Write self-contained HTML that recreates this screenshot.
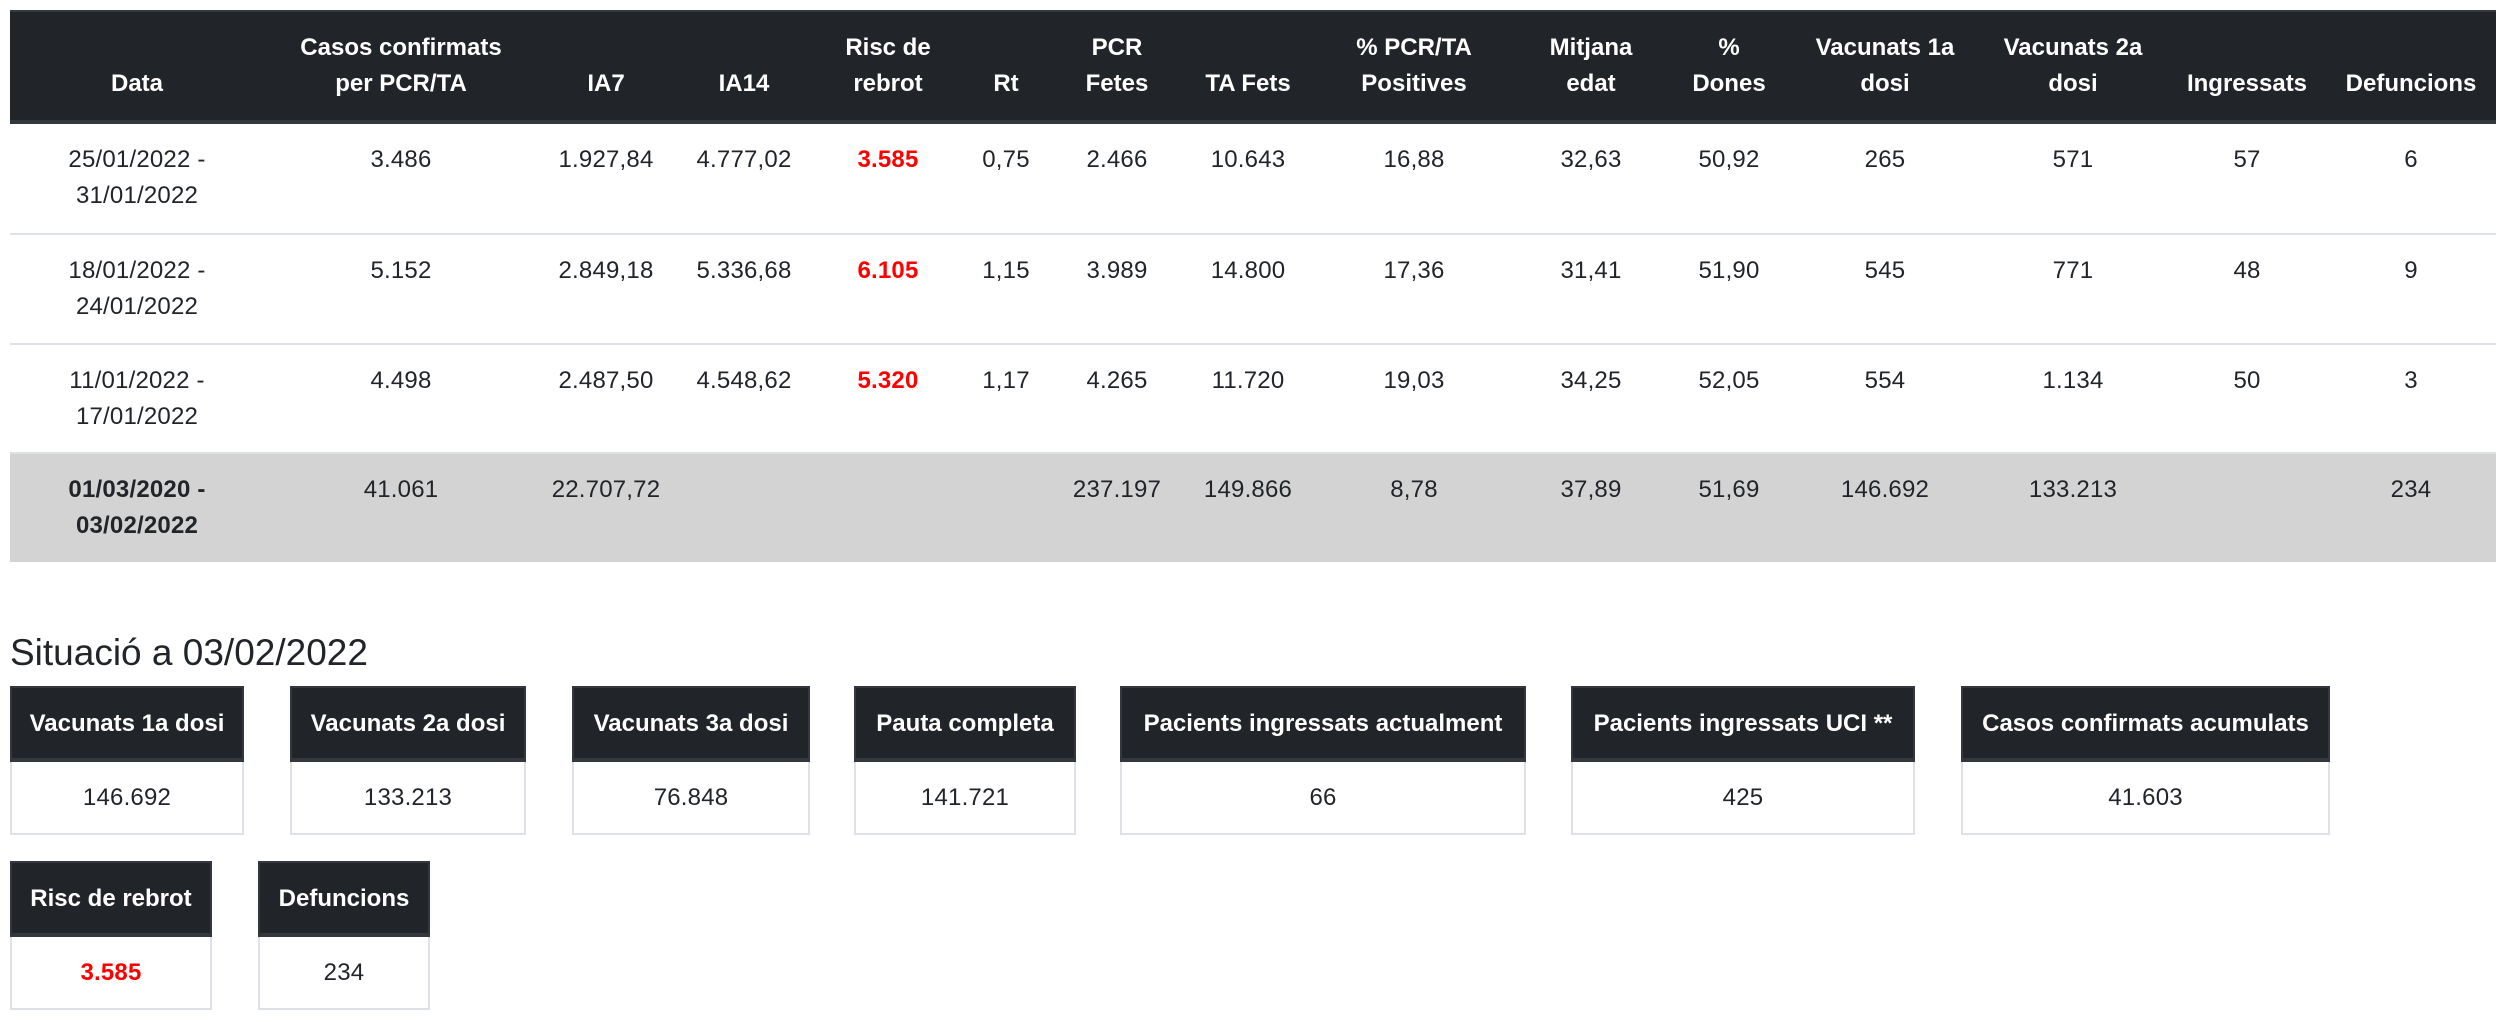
<!DOCTYPE html>
<html>
<head>
<meta charset="utf-8">
<style>
*{box-sizing:border-box;margin:0;padding:0}
html,body{width:2508px;height:1022px;background:#fff;overflow:hidden}
body{font-family:"Liberation Sans",Arial,sans-serif;color:#212529;position:relative}
.thead{position:absolute;left:10px;top:10px;width:2486px;height:114px;background:#212529;border-top:2px solid #32383e;border-bottom:4px solid #32383e;display:flex}
.thead .c{height:108px;display:flex;flex-direction:column;justify-content:flex-end;align-items:center;padding-bottom:18px;color:#fff;font-weight:bold;font-size:24px;line-height:36px;text-align:center;white-space:nowrap}
.row{position:absolute;left:10px;width:2486px;height:109.5px;display:flex}
.row.b{border-top:2px solid #dee2e6}
.row .c{padding-top:18px;font-size:24px;line-height:36px;text-align:center;white-space:nowrap;letter-spacing:0.2px}
.row.tot{background:#d3d3d3}
.red{color:#ff0000;font-weight:bold}
.bold{font-weight:bold}
h4{position:absolute;left:10px;top:631px;font-size:37px;line-height:43px;font-weight:normal;color:#212529;white-space:nowrap}
.card{position:absolute;height:149px}
.card .h{height:76px;background:#212529;border:2px solid #32383e;border-bottom:4px solid #32383e;color:#fff;font-weight:bold;font-size:24px;line-height:36px;text-align:center;padding-top:18px;white-space:nowrap}
.card .v{height:73px;border:2px solid #dee2e6;border-top:none;font-size:24px;line-height:36px;text-align:center;padding-top:18px;white-space:nowrap;letter-spacing:0.2px}
</style>
</head>
<body>

<div class="thead">
  <div class="c" style="width:254px">Data</div>
  <div class="c" style="width:274px">Casos confirmats<br>per PCR/TA</div>
  <div class="c" style="width:136px">IA7</div>
  <div class="c" style="width:140px">IA14</div>
  <div class="c" style="width:148px">Risc de<br>rebrot</div>
  <div class="c" style="width:88px">Rt</div>
  <div class="c" style="width:134px">PCR<br>Fetes</div>
  <div class="c" style="width:128px">TA Fets</div>
  <div class="c" style="width:204px">% PCR/TA<br>Positives</div>
  <div class="c" style="width:150px">Mitjana<br>edat</div>
  <div class="c" style="width:126px">%<br>Dones</div>
  <div class="c" style="width:186px">Vacunats 1a<br>dosi</div>
  <div class="c" style="width:190px">Vacunats 2a<br>dosi</div>
  <div class="c" style="width:158px">Ingressats</div>
  <div class="c" style="width:170px">Defuncions</div>
</div>

<div class="row" style="top:124px">
  <div class="c" style="width:254px">25/01/2022 -<br>31/01/2022</div>
  <div class="c" style="width:274px">3.486</div>
  <div class="c" style="width:136px">1.927,84</div>
  <div class="c" style="width:140px">4.777,02</div>
  <div class="c red" style="width:148px">3.585</div>
  <div class="c" style="width:88px">0,75</div>
  <div class="c" style="width:134px">2.466</div>
  <div class="c" style="width:128px">10.643</div>
  <div class="c" style="width:204px">16,88</div>
  <div class="c" style="width:150px">32,63</div>
  <div class="c" style="width:126px">50,92</div>
  <div class="c" style="width:186px">265</div>
  <div class="c" style="width:190px">571</div>
  <div class="c" style="width:158px">57</div>
  <div class="c" style="width:170px">6</div>
</div>

<div class="row b" style="top:233px">
  <div class="c" style="width:254px">18/01/2022 -<br>24/01/2022</div>
  <div class="c" style="width:274px">5.152</div>
  <div class="c" style="width:136px">2.849,18</div>
  <div class="c" style="width:140px">5.336,68</div>
  <div class="c red" style="width:148px">6.105</div>
  <div class="c" style="width:88px">1,15</div>
  <div class="c" style="width:134px">3.989</div>
  <div class="c" style="width:128px">14.800</div>
  <div class="c" style="width:204px">17,36</div>
  <div class="c" style="width:150px">31,41</div>
  <div class="c" style="width:126px">51,90</div>
  <div class="c" style="width:186px">545</div>
  <div class="c" style="width:190px">771</div>
  <div class="c" style="width:158px">48</div>
  <div class="c" style="width:170px">9</div>
</div>

<div class="row b" style="top:342.5px">
  <div class="c" style="width:254px">11/01/2022 -<br>17/01/2022</div>
  <div class="c" style="width:274px">4.498</div>
  <div class="c" style="width:136px">2.487,50</div>
  <div class="c" style="width:140px">4.548,62</div>
  <div class="c red" style="width:148px">5.320</div>
  <div class="c" style="width:88px">1,17</div>
  <div class="c" style="width:134px">4.265</div>
  <div class="c" style="width:128px">11.720</div>
  <div class="c" style="width:204px">19,03</div>
  <div class="c" style="width:150px">34,25</div>
  <div class="c" style="width:126px">52,05</div>
  <div class="c" style="width:186px">554</div>
  <div class="c" style="width:190px">1.134</div>
  <div class="c" style="width:158px">50</div>
  <div class="c" style="width:170px">3</div>
</div>

<div class="row b tot" style="top:452px;height:110px">
  <div class="c bold" style="width:254px">01/03/2020 -<br>03/02/2022</div>
  <div class="c" style="width:274px">41.061</div>
  <div class="c" style="width:136px">22.707,72</div>
  <div class="c" style="width:140px"></div>
  <div class="c" style="width:148px"></div>
  <div class="c" style="width:88px"></div>
  <div class="c" style="width:134px">237.197</div>
  <div class="c" style="width:128px">149.866</div>
  <div class="c" style="width:204px">8,78</div>
  <div class="c" style="width:150px">37,89</div>
  <div class="c" style="width:126px">51,69</div>
  <div class="c" style="width:186px">146.692</div>
  <div class="c" style="width:190px">133.213</div>
  <div class="c" style="width:158px"></div>
  <div class="c" style="width:170px">234</div>
</div>

<h4>Situació a 03/02/2022</h4>

<div class="card" style="left:10px;top:686px;width:234px"><div class="h">Vacunats 1a dosi</div><div class="v">146.692</div></div>
<div class="card" style="left:290px;top:686px;width:236px"><div class="h">Vacunats 2a dosi</div><div class="v">133.213</div></div>
<div class="card" style="left:572px;top:686px;width:238px"><div class="h">Vacunats 3a dosi</div><div class="v">76.848</div></div>
<div class="card" style="left:854px;top:686px;width:222px"><div class="h">Pauta completa</div><div class="v">141.721</div></div>
<div class="card" style="left:1120px;top:686px;width:406px"><div class="h">Pacients ingressats actualment</div><div class="v">66</div></div>
<div class="card" style="left:1571px;top:686px;width:344px"><div class="h">Pacients ingressats UCI **</div><div class="v">425</div></div>
<div class="card" style="left:1961px;top:686px;width:369px"><div class="h">Casos confirmats acumulats</div><div class="v">41.603</div></div>

<div class="card" style="left:10px;top:861px;width:202px"><div class="h">Risc de rebrot</div><div class="v"><span class="red">3.585</span></div></div>
<div class="card" style="left:258px;top:861px;width:172px"><div class="h">Defuncions</div><div class="v">234</div></div>

</body>
</html>
